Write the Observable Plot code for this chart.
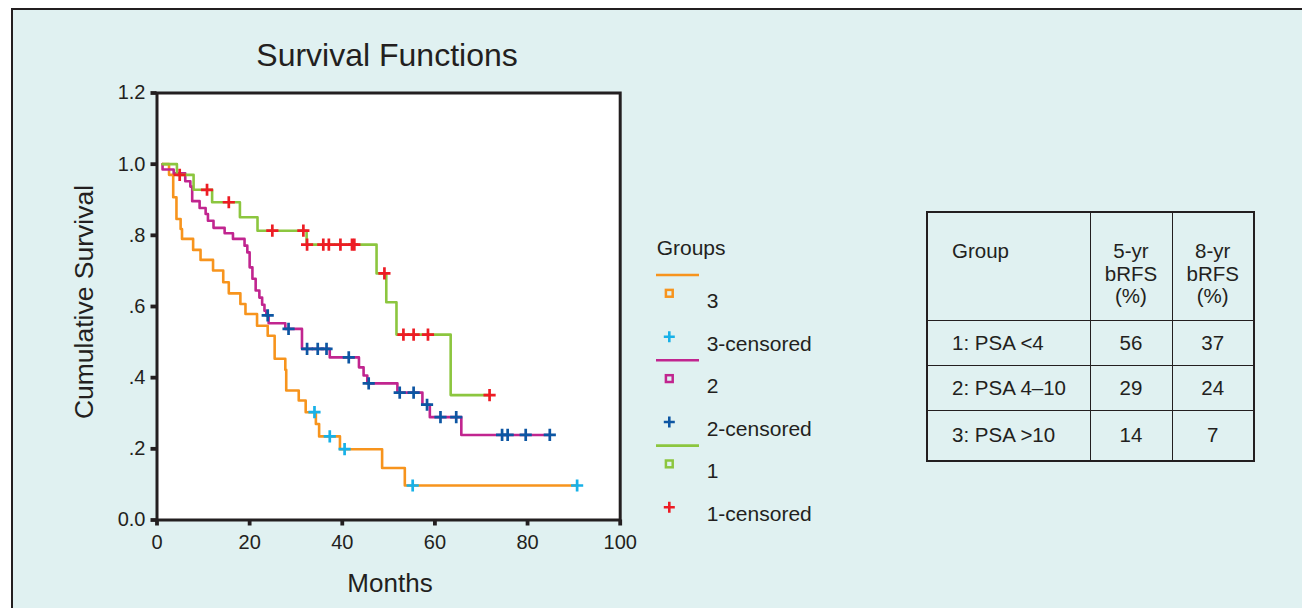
<!DOCTYPE html>
<html><head><meta charset="utf-8">
<script src="https://cdn.jsdelivr.net/npm/d3@7"></script>
<script src="https://cdn.jsdelivr.net/npm/@observablehq/plot@0.6"></script>
<style>
html,body{margin:0;padding:0;background:#fff;width:1302px;height:608px;overflow:hidden;font-family:"Liberation Sans",Arial,Helvetica,sans-serif;color:#231f20;}
#panel{position:absolute;left:11px;top:8px;width:1400px;height:700px;background:#e0f1f1;border:2.5px solid #231f20;box-sizing:border-box;}
.abs{position:absolute;white-space:nowrap;line-height:1;}
#chart{position:absolute;left:0;top:0;}
#title{left:387px;top:39px;font-size:32px;transform:translateX(-50%);}
#ylab{left:84px;top:302px;font-size:26.5px;transform:translate(-50%,-50%) rotate(-90deg);}
#xlab{left:390px;top:570px;font-size:26px;transform:translateX(-50%);}
#legend{position:absolute;left:640px;top:230px;}
#tbl{position:absolute;left:926px;top:211px;border-collapse:collapse;table-layout:fixed;width:327px;border:2.5px solid #231f20;font-size:20.5px;}
#tbl td{border:1.5px solid #231f20;padding:0;text-align:center;vertical-align:middle;line-height:22.5px;}
#tbl tr.h td{vertical-align:top;padding-top:27px;height:80px;}
#tbl td.g{text-align:left;padding-left:24px;}
</style></head><body>
<div id="panel"></div>
<div id="chart"></div>
<div class="abs" id="title">Survival Functions</div>
<div class="abs" id="ylab">Cumulative Survival</div>
<div class="abs" id="xlab">Months</div>
<div id="legend"></div>
<table id="tbl"></table>
<script>
// ---------- data ----------
// Group 1 (PSA <4) Kaplan-Meier steps
const g1Times = [1.2, 4.3, 7.9, 11.9, 17.9, 21.7, 32.3, 47.4, 49.5, 51.7, 63.4, 71.8];
const g1Surv  = [1.0, 0.970, 0.928, 0.893, 0.851, 0.813, 0.774, 0.693, 0.612, 0.521, 0.351, 0.351];
const g1CensTimes = [4.9, 10.8, 15.5, 24.9, 31.6, 32.4, 35.9, 37.1, 39.6, 42.1, 42.6, 49.1, 53.2, 55.4, 58.5, 71.8];
const g1CensSurv  = [0.970, 0.928, 0.893, 0.813, 0.813, 0.774, 0.774, 0.774, 0.774, 0.774, 0.774, 0.693, 0.521, 0.521, 0.521, 0.351];

// Group 2 (PSA 4-10)
const g2Times = [1.2, 1.2, 3.6, 6.1, 7.2, 7.6, 9.2, 10.5, 11.0, 12.2, 14.6, 16.4, 18.9, 19.5, 20.0, 20.6, 21.3, 22.1, 22.7, 23.2, 23.6, 24.1, 27.7, 31.3, 37.3, 43.6, 44.6, 45.4, 51.9, 57.3, 58.9, 65.7, 84.8];
const g2Surv  = [1.0, 0.985, 0.974, 0.952, 0.937, 0.896, 0.877, 0.860, 0.841, 0.821, 0.806, 0.790, 0.771, 0.752, 0.710, 0.678, 0.645, 0.625, 0.605, 0.588, 0.575, 0.553, 0.537, 0.481, 0.457, 0.429, 0.406, 0.384, 0.358, 0.324, 0.289, 0.239, 0.239];
const g2CensTimes = [23.9, 28.4, 32.4, 34.7, 36.6, 41.4, 45.7, 52.4, 55.4, 58.3, 61.2, 64.6, 74.5, 75.7, 79.6, 84.8];
const g2CensSurv  = [0.575, 0.537, 0.481, 0.481, 0.481, 0.457, 0.384, 0.358, 0.358, 0.324, 0.289, 0.289, 0.239, 0.239, 0.239, 0.239];

// Group 3 (PSA >10)
const g3Times = [1.2, 2.6, 3.5, 4.2, 5.1, 5.4, 7.8, 9.4, 12.1, 14.3, 15.5, 18.0, 19.1, 21.6, 23.9, 25.4, 27.7, 27.9, 30.6, 32.1, 34.3, 35.0, 39.5, 48.6, 53.5, 90.7];
const g3Surv  = [1.0, 0.970, 0.907, 0.846, 0.818, 0.790, 0.759, 0.731, 0.701, 0.668, 0.637, 0.607, 0.579, 0.546, 0.518, 0.453, 0.422, 0.364, 0.336, 0.303, 0.270, 0.235, 0.199, 0.146, 0.097, 0.097];
const g3CensTimes = [34.0, 37.3, 40.5, 55.2, 90.7];
const g3CensSurv  = [0.303, 0.235, 0.199, 0.097, 0.097];

const xTicks = [0, 20, 40, 60, 80, 100];
const yTicks = [0, 0.2, 0.4, 0.6, 0.8, 1.0, 1.2];
const yTickLabels = ["0.0", ".2", ".4", ".6", ".8", "1.0", "1.2"];

const legendLabels = ["3", "3-censored", "2", "2-censored", "1", "1-censored"];
const lineColors = {"3": "#f7941d", "2": "#c1258f", "1": "#8cc63f"};
const censColors = {"3": "#17b1e8", "2": "#0d56a3", "1": "#ed1c24"};

const tableHeader = ["Group", "5-yr<br>bRFS<br>(%)", "8-yr<br>bRFS<br>(%)"];
const tableGroups = ["1: PSA <4", "2: PSA 4\u201310", "3: PSA >10"];
const bRFS5 = [56, 29, 14];
const bRFS8 = [37, 24, 7];

// ---------- build rows ----------
const toRows = (ts, ss) => ts.map((t, i) => ({t, s: ss[i]}));
const curves = {"1": toRows(g1Times, g1Surv), "2": toRows(g2Times, g2Surv), "3": toRows(g3Times, g3Surv)};
const cens = {"1": toRows(g1CensTimes, g1CensSurv), "2": toRows(g2CensTimes, g2CensSurv), "3": toRows(g3CensTimes, g3CensSurv)};
const yLabelMap = new Map(yTicks.map((v, i) => [Math.round(v * 10), yTickLabels[i]]));

const ink = "#231f20";
const marks = [Plot.frame({fill: "white", stroke: "none"})];
for (const g of ["3", "2", "1"]) {
  marks.push(Plot.line(curves[g], {x: "t", y: "s", curve: "step-after", stroke: lineColors[g], strokeWidth: 2.6}));
}
for (const g of ["3", "2", "1"]) {
  marks.push(Plot.dot(cens[g], {x: "t", y: "s", symbol: "plus", r: 4, stroke: censColors[g], strokeWidth: 2.7}));
}
marks.push(Plot.frame({stroke: ink, strokeWidth: 3}));
marks.push(Plot.axisY({ticks: yTicks, tickFormat: d => yLabelMap.get(Math.round(d * 10)), tickSize: 6, tickPadding: 5.5, strokeWidth: 3.8, stroke: ink, fill: ink, fontSize: 20, label: null}));
marks.push(Plot.axisX({ticks: xTicks, tickSize: 6, tickPadding: 9, strokeWidth: 3.8, stroke: ink, fill: ink, fontSize: 20, label: null}));

const chart = Plot.plot({
  width: 640, height: 608,
  marginLeft: 156.5, marginRight: 20.3, marginTop: 92.5, marginBottom: 88.5,
  style: {background: "transparent", fontFamily: "'Liberation Sans', Arial, sans-serif", color: ink, overflow: "visible"},
  x: {domain: [0, 100], label: null},
  y: {domain: [0, 1.2], label: null},
  marks
});
document.getElementById("chart").appendChild(chart);

// ---------- legend ----------
const lg = d3.select("#legend").append("svg").attr("width", 200).attr("height", 300)
  .style("font-family", "'Liberation Sans', Arial, sans-serif").style("overflow", "visible");
lg.append("text").attr("x", 16.7).attr("y", 17).attr("dy", "0.36em").attr("font-size", 21).attr("fill", ink).text("Groups");
const step = 85.3;
["3", "2", "1"].forEach((g, i) => {
  const y0 = 45 + i * step;
  lg.append("line").attr("x1", 16).attr("x2", 59).attr("y1", y0).attr("y2", y0).attr("stroke", lineColors[g]).attr("stroke-width", 2.6);
  lg.append("rect").attr("x", 29.3 - 3.4).attr("y", y0 + 18.3 - 3.4).attr("width", 6.8).attr("height", 6.8)
    .attr("fill", "none").attr("stroke", lineColors[g]).attr("stroke-width", 2.5);
  lg.append("text").attr("x", 66.7).attr("y", y0 + 25).attr("dy", "0.36em").attr("font-size", 21).attr("fill", ink).text(legendLabels[i * 2]);
  const py = y0 + 61.7;
  lg.append("path").attr("d", `M${29.3 - 5.5},${py}H${29.3 + 5.5}M29.3,${py - 5.5}V${py + 5.5}`)
    .attr("stroke", censColors[g]).attr("stroke-width", 2.6).attr("fill", "none");
  lg.append("text").attr("x", 66.7).attr("y", y0 + 68).attr("dy", "0.36em").attr("font-size", 21).attr("fill", ink).text(legendLabels[i * 2 + 1]);
});

// ---------- table ----------
const tbl = document.getElementById("tbl");
const colW = [163, 82, 82];
let html = "<colgroup>" + colW.map(w => `<col style="width:${w}px">`).join("") + "</colgroup>";
html += `<tr class="h"><td class="g">${tableHeader[0]}</td><td>${tableHeader[1]}</td><td>${tableHeader[2]}</td></tr>`;
const rowH = [45, 45, 50];
tableGroups.forEach((g, i) => {
  html += `<tr style="height:${rowH[i]}px"><td class="g">${g}</td><td>${bRFS5[i]}</td><td>${bRFS8[i]}</td></tr>`;
});
tbl.innerHTML = html;
</script>
</body></html>
